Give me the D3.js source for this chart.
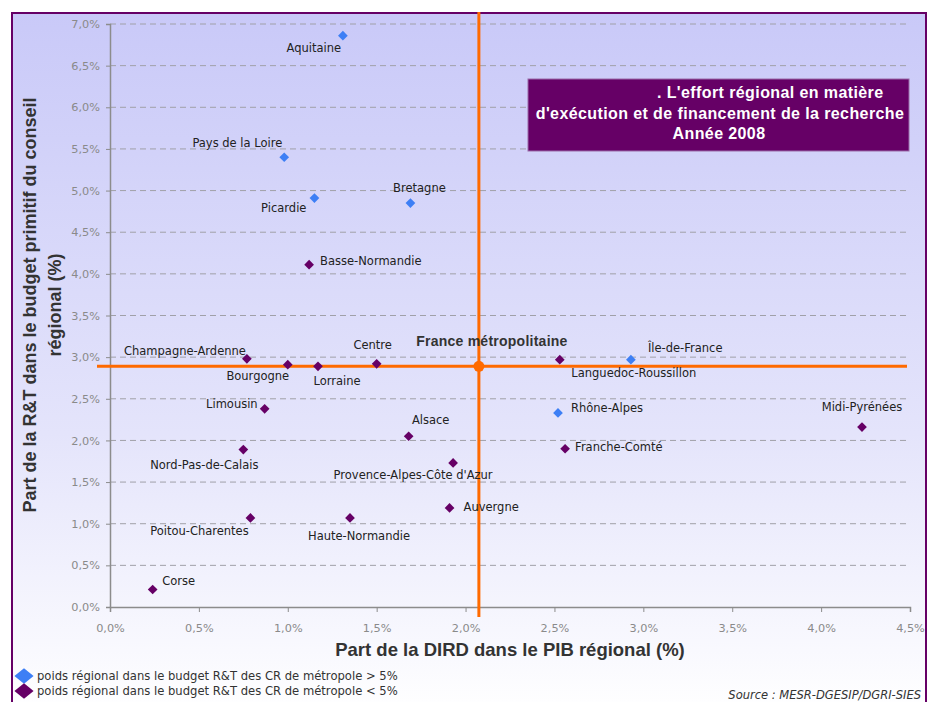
<!DOCTYPE html>
<html><head><meta charset="utf-8">
<script src="https://cdn.jsdelivr.net/npm/d3@7"></script>
<style>body{margin:0;background:#fff}svg{display:block;font-family:"DejaVu Sans",Verdana,sans-serif}</style>
</head><body>
<svg id="c" width="927" height="702"></svg>
<script>
// ---- data ----
const regions = ["Aquitaine","Pays de la Loire","Picardie","Bretagne","Île-de-France","Rhône-Alpes",
  "Basse-Normandie","Champagne-Ardenne","Bourgogne","Lorraine","Centre","Limousin","Alsace",
  "Nord-Pas-de-Calais","Provence-Alpes-Côte d'Azur","Poitou-Charentes","Haute-Normandie","Auvergne",
  "Corse","Languedoc-Roussillon","Franche-Comté","Midi-Pyrénées"];
const dird = [1.31,0.98,1.15,1.69,2.93,2.52, 1.12,0.77,1.00,1.17,1.50,0.87,1.68, 0.75,1.93,0.79,1.35,1.91, 0.24,2.53,2.56,4.23];
const rtShare = [6.86,5.40,4.91,4.85,2.97,2.33, 4.11,2.98,2.91,2.89,2.92,2.38,2.05, 1.89,1.73,1.07,1.07,1.19, 0.21,2.97,1.90,2.16];
const group = ["gt5","gt5","gt5","gt5","gt5","gt5", "lt5","lt5","lt5","lt5","lt5","lt5","lt5", "lt5","lt5","lt5","lt5","lt5", "lt5","lt5","lt5","lt5"];
// label offsets relative to the point [dx, dy, anchor]
const labelPos = [[-29,12,"middle"],[-2,-14,"end"],[-8,10,"end"],[9,-15,"middle"],[17,-12,"start"],[13,-5,"start"],
  [11,-4,"start"],[-1,-8,"end"],[-30,11,"middle"],[19,15,"middle"],[-4,-19,"middle"],[-7,-5,"end"],[22,-16,"middle"],
  [-39,15,"middle"],[-40,12,"middle"],[-51,13,"middle"],[9,18,"middle"],[14,-1,"start"],
  [26,-9,"middle"],[74,13,"middle"],[10,-2,"start"],[0,-20,"middle"]];
const france = {x:2.075, y:2.89, label:"France métropolitaine"};
const xTicks = [0,0.5,1,1.5,2,2.5,3,3.5,4,4.5];
const yTicks = [0,0.5,1,1.5,2,2.5,3,3.5,4,4.5,5,5.5,6,6.5,7];
const legendLabels = ["poids régional dans le budget R&T des CR de métropole > 5%","poids régional dans le budget R&T des CR de métropole < 5%"];
const titleLines = [". L'effort régional en matière","d'exécution et de financement de la recherche","Année 2008"];
const colors = {gt5:"#3d7ff5", lt5:"#660066"};

const svg = d3.select("#c");
const defs = svg.append("defs");
const grad = defs.append("linearGradient").attr("id","bg").attr("x1",0).attr("y1",0).attr("x2",0).attr("y2",1);
grad.append("stop").attr("offset","0%").attr("stop-color","#c9c9f8");
grad.append("stop").attr("offset","60%").attr("stop-color","#e4e4fb");
grad.append("stop").attr("offset","100%").attr("stop-color","#ffffff");
svg.append("rect").attr("x",12).attr("y",13).attr("width",914).attr("height",700)
  .attr("fill","url(#bg)").attr("stroke","#660066").attr("stroke-width",2);

const x = d3.scaleLinear().domain([0,4.5]).range([110,910]);
const y = d3.scaleLinear().domain([0,7]).range([607,24]);
const fmt = d => d.toFixed(1).replace(".",",") + "%";

// gridlines
svg.append("g").selectAll("line").data(yTicks.filter(d=>d>0)).join("line")
  .attr("x1",x(0)).attr("x2",x(4.5)).attr("y1",d=>y(d)).attr("y2",d=>y(d))
  .attr("stroke","#a0a0a8").attr("stroke-width",1).attr("stroke-dasharray","6,4");

// axes
const yAxis = svg.append("g").attr("transform",`translate(${x(0)},0)`)
  .call(d3.axisLeft(y).tickValues(yTicks).tickFormat(fmt).tickSize(4).tickPadding(6));
const xAxis = svg.append("g").attr("transform",`translate(0,${y(0)})`)
  .call(d3.axisBottom(x).tickValues(xTicks).tickFormat(fmt).tickSize(5).tickPadding(12));
[yAxis,xAxis].forEach(a=>{
  a.select(".domain").attr("stroke","#8c8c8c").attr("stroke-width",1.5);
  a.selectAll(".tick line").attr("stroke","#8c8c8c");
  a.selectAll("text").attr("fill","#8a8a8a").attr("font-size",11.3).attr("font-family","DejaVu Sans, Verdana, sans-serif");
});

// orange reference lines
svg.append("line").attr("x1",x(france.x)).attr("x2",x(france.x)).attr("y1",12).attr("y2",617)
  .attr("stroke","#ff6a00").attr("stroke-width",3);
svg.append("line").attr("x1",97).attr("x2",907).attr("y1",y(france.y)).attr("y2",y(france.y))
  .attr("stroke","#ff6a00").attr("stroke-width",3);
svg.append("circle").attr("cx",x(france.x)).attr("cy",y(france.y)).attr("r",5.5).attr("fill","#ff6a00");
svg.append("text").attr("x",x(france.x)+13).attr("y",y(france.y)-20).attr("text-anchor","middle")
  .attr("font-family","Liberation Sans, Arial, sans-serif").attr("letter-spacing",0.25)
  .attr("font-size",14).attr("font-weight","bold").attr("fill","#333").text(france.label);

// points
const diamond = d3.symbol().type(d3.symbolDiamond2).size(60);
const pts = regions.map((r,i)=>({r, x:dird[i], y:rtShare[i], g:group[i], l:labelPos[i]}));
svg.append("g").selectAll("path").data(pts).join("path")
  .attr("transform",d=>`translate(${x(d.x)},${y(d.y)})`)
  .attr("d",diamond).attr("fill",d=>colors[d.g]);
svg.append("g").selectAll("text").data(pts).join("text")
  .attr("x",d=>x(d.x)+d.l[0]).attr("y",d=>y(d.y)+d.l[1]+4)
  .attr("text-anchor",d=>d.l[2]).attr("font-size",11.5).attr("fill","#222").text(d=>d.r);

// title box
svg.append("rect").attr("x",528).attr("y",79).attr("width",381).attr("height",72)
  .attr("fill","#660066").attr("stroke","#9a6aa8").attr("stroke-width",1);
const tt = svg.append("text").attr("fill","#fff").attr("font-weight","bold").attr("font-size",16)
  .attr("font-family","Liberation Sans, Arial, sans-serif").attr("letter-spacing",0.4);
tt.append("tspan").attr("x",657).attr("y",98).attr("text-anchor","start").text(titleLines[0]);
tt.append("tspan").attr("x",720).attr("y",119).attr("text-anchor","middle").text(titleLines[1]);
tt.append("tspan").attr("x",719).attr("y",139).attr("text-anchor","middle").text(titleLines[2]);

// axis titles
svg.append("text").attr("x",510).attr("y",656).attr("text-anchor","middle")
  .attr("font-family","Liberation Sans, Arial, sans-serif")
  .attr("font-size",18.5).attr("font-weight","bold").attr("fill","#333")
  .text("Part de la DIRD dans le PIB régional (%)");
const yt = svg.append("text").attr("transform","translate(0,305) rotate(-90)")
  .attr("font-family","Liberation Sans, Arial, sans-serif")
  .attr("text-anchor","middle").attr("font-size",18).attr("font-weight","bold").attr("fill","#333");
yt.append("tspan").attr("x",0).attr("y",36).text("Part de la R&T dans le budget primitif du conseil");
yt.append("tspan").attr("x",0).attr("y",61).text("régional (%)");

// legend
const leg = svg.append("g");
["gt5","lt5"].forEach((g,i)=>{
  const cy = 676 + i*15;
  leg.append("path").attr("transform",`translate(24,${cy}) scale(1.25,1)`)
    .attr("d",d3.symbol().type(d3.symbolDiamond2).size(150)()).attr("fill",colors[g]);
  leg.append("text").attr("x",37).attr("y",cy+4).attr("font-size",11.6).attr("fill","#333").text(legendLabels[i]);
});
svg.append("text").attr("x",921).attr("y",699).attr("text-anchor","end").attr("font-size",11.5)
  .attr("font-style","italic").attr("fill","#333").text("Source : MESR-DGESIP/DGRI-SIES");
</script>
</body></html>
